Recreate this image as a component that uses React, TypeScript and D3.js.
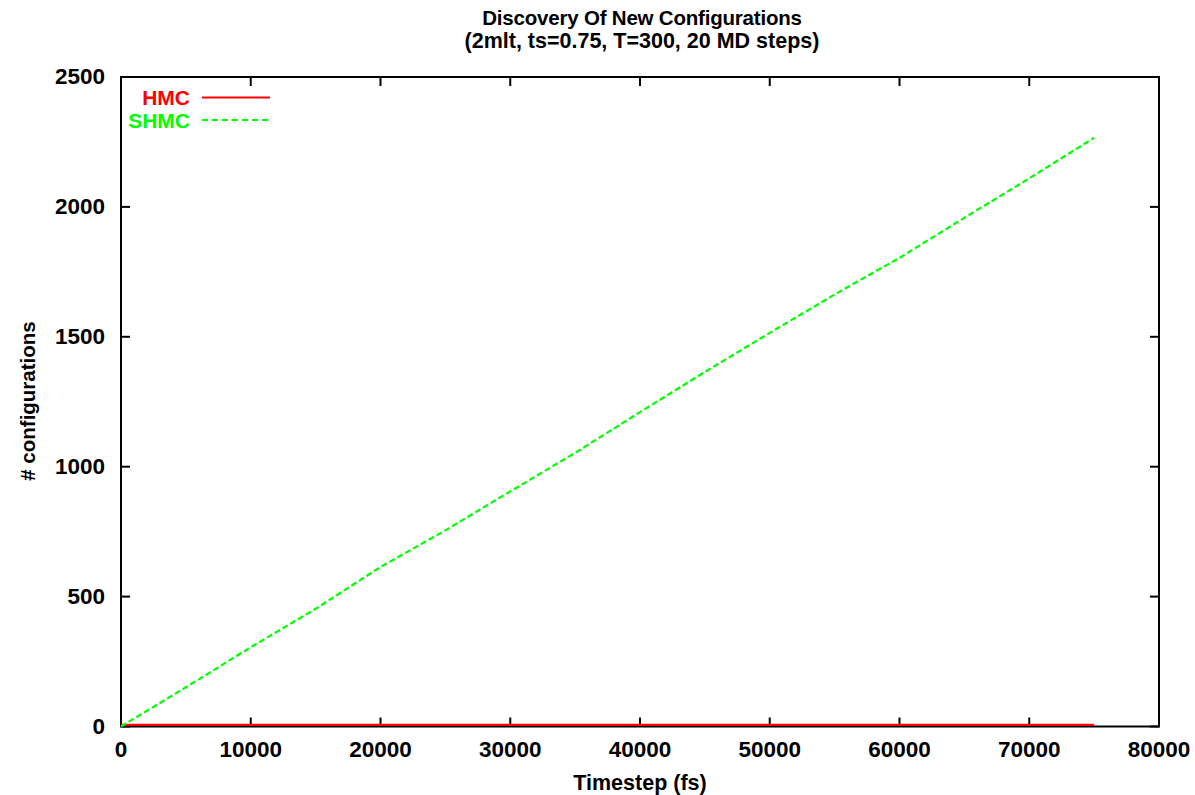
import React from "react";
import * as d3 from "d3";

const titleLines = ["Discovery Of New Configurations", "(2mlt, ts=0.75, T=300, 20 MD steps)"];
const xLabel = "Timestep (fs)";
const yLabel = "# configurations";
const xTicks = [0, 10000, 20000, 30000, 40000, 50000, 60000, 70000, 80000];
const yTicks = [0, 500, 1000, 1500, 2000, 2500];

const shmcSteps = [0, 5000, 10000, 15000, 20000, 25000, 30000, 35000, 40000, 45000, 50000, 55000, 60000, 65000, 70000, 75000];
const shmcConfigs = [0, 151, 305, 453, 614, 755, 905, 1053, 1210, 1365, 1515, 1663, 1804, 1958, 2110, 2266];
const hmcSteps = [0, 75000];
const hmcConfigs = [6, 6];

const seriesNames = ["HMC", "SHMC"];
const seriesColors = ["#ff0000", "#00ff00"];

export default function App() {
  const W = 1195, H = 795;
  const m = { left: 121, right: 1159, top: 77, bottom: 726.5 };
  const x = d3.scaleLinear().domain([0, 80000]).range([m.left, m.right]);
  const y = d3.scaleLinear().domain([0, 2500]).range([m.bottom, m.top]);
  const line = d3.line<[number, number]>().x(d => x(d[0])).y(d => y(d[1]));
  const shmc = line(shmcSteps.map((s, i) => [s, shmcConfigs[i]] as [number, number])) || "";
  const hmc = line(hmcSteps.map((s, i) => [s, hmcConfigs[i]] as [number, number])) || "";
  const font = "'Liberation Sans', Arial, sans-serif";
  const tl = 9;
  return (
    <svg width={W} height={H} style={{ position: "absolute", left: 0, top: 0, background: "#fff" }}
      fontFamily={font} fontWeight="bold">
      <rect x={0} y={0} width={W} height={H} fill="#fff" />
      <text x={642} y={25} textAnchor="middle" fontSize={20.5} letterSpacing={-0.2}>{titleLines[0]}</text>
      <text x={642} y={48} textAnchor="middle" fontSize={21.5}>{titleLines[1]}</text>
      {xTicks.map(t => (
        <g key={"x" + t}>
          <line x1={x(t)} x2={x(t)} y1={m.bottom} y2={m.bottom - tl} stroke="#000" strokeWidth={2} />
          <line x1={x(t)} x2={x(t)} y1={m.top} y2={m.top + tl} stroke="#000" strokeWidth={2} />
          <text x={x(t)} y={757} textAnchor="middle" fontSize={22.5}>{t}</text>
        </g>
      ))}
      {yTicks.map(t => (
        <g key={"y" + t}>
          <line x1={m.left} x2={m.left + tl} y1={y(t)} y2={y(t)} stroke="#000" strokeWidth={2} />
          <line x1={m.right} x2={m.right - tl} y1={y(t)} y2={y(t)} stroke="#000" strokeWidth={2} />
          <text x={105} y={y(t) + 7} textAnchor="end" fontSize={22.5}>{t}</text>
        </g>
      ))}
      <rect x={m.left} y={m.top} width={m.right - m.left} height={m.bottom - m.top} fill="none" stroke="#000" strokeWidth={2} />
      <path d={hmc} fill="none" stroke={seriesColors[0]} strokeWidth={2.2} />
      <path d={shmc} fill="none" stroke={seriesColors[1]} strokeWidth={2.2} strokeDasharray="6,3" />
      <text x={190} y={104.5} textAnchor="end" fontSize={21} fill={seriesColors[0]}>{seriesNames[0]}</text>
      <line x1={202} x2={270} y1={97.5} y2={97.5} stroke={seriesColors[0]} strokeWidth={2} />
      <text x={190} y={128} textAnchor="end" fontSize={21} fill={seriesColors[1]}>{seriesNames[1]}</text>
      <line x1={202} x2={270} y1={120} y2={120} stroke={seriesColors[1]} strokeWidth={2} strokeDasharray="6,4" />
      <text x={640} y={790} textAnchor="middle" fontSize={21.5}>{xLabel}</text>
      <text transform={`translate(35,401) rotate(-90)`} textAnchor="middle" fontSize={20.5}>{yLabel}</text>
    </svg>
  );
}
